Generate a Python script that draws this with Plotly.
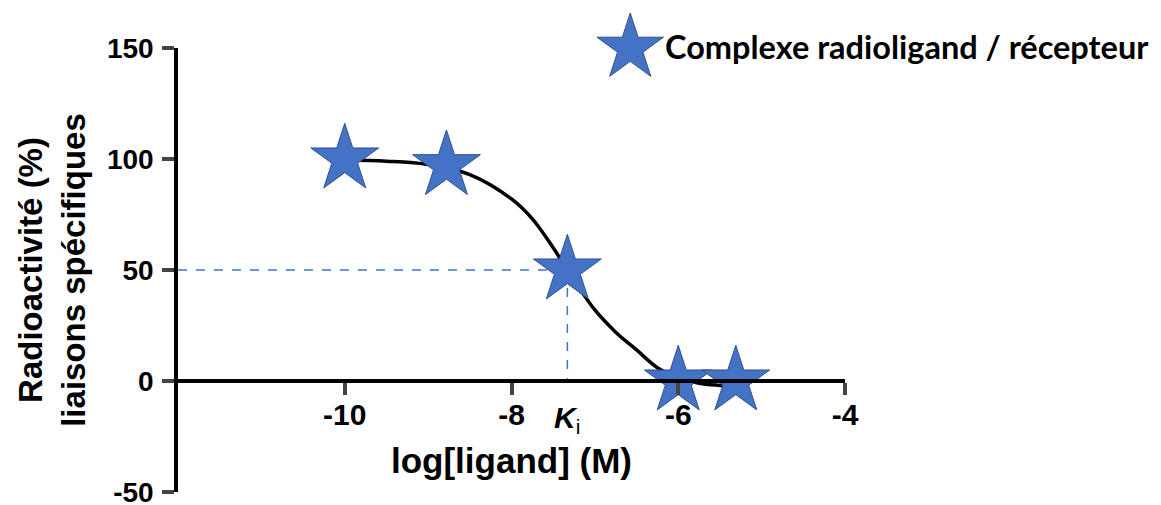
import plotly.graph_objects as go

# ---- data ----
log_ligand = [-10.0, -8.78, -7.33, -6.0, -5.31]
binding_pct = [100, 97, 50, 0, 0]

curve_x = [-10.0, -9.5, -9.0, -8.5, -8.0, -7.75, -7.5, -7.33, -7.0, -6.75, -6.5, -6.25, -6.0, -5.75, -5.5, -5.3]
curve_y = [99.5, 99.0, 97.5, 93.0, 82.0, 73.0, 60.0, 50.0, 32.0, 22.0, 14.0, 6.0, 1.5, -1.0, -2.0, -2.5]

ki_log = -7.33
half_binding = 50

x_ticks = [-10, -8, -6, -4]
x_tick_labels = ["-10", "-8", "-6", "-4"]
y_ticks = [-50, 0, 50, 100, 150]
y_tick_labels = ["-50", "0", "50", "100", "150"]
x_range = [-12, -4]
y_range = [-50, 150]

series_name = "Complexe radioligand / récepteur"

BLUE = "#4472C4"
BLUE_EDGE = "#2F528F"
AXIS_FONT = "Liberation Sans, Arial, sans-serif"

fig = go.Figure()

# dashed guide lines at Ki / 50 %
fig.add_trace(go.Scatter(x=[x_range[0], ki_log], y=[half_binding, half_binding], mode="lines",
                         line=dict(color=BLUE, width=1.5, dash="dash"), showlegend=False, hoverinfo="skip"))
fig.add_trace(go.Scatter(x=[ki_log, ki_log], y=[half_binding, 0], mode="lines",
                         line=dict(color=BLUE, width=1.5, dash="dash"), showlegend=False, hoverinfo="skip"))

# fitted curve
fig.add_trace(go.Scatter(x=curve_x, y=curve_y, mode="lines", line=dict(color="black", width=3.5, shape="spline"),
                         showlegend=False, hoverinfo="skip"))

# data points
fig.add_trace(go.Scatter(x=log_ligand, y=binding_pct, mode="markers", name=series_name,
                         marker=dict(symbol="star", size=51, color=BLUE, line=dict(color=BLUE_EDGE, width=1)),
                         cliponaxis=False, showlegend=False))

# custom legend key (large star) on an auxiliary paper-like axis
fig.add_trace(go.Scatter(x=[0.678], y=[1.0], xaxis="x2", yaxis="y2", mode="markers",
                         marker=dict(symbol="star", size=50, color=BLUE, line=dict(color=BLUE_EDGE, width=1)),
                         cliponaxis=False, showlegend=False, hoverinfo="skip"))

fig.add_annotation(xref="paper", yref="paper", x=0.727, y=1.004, xanchor="left", yanchor="middle",
                   text="<b>" + series_name + "</b>", showarrow=False,
                   font=dict(family="Lato, Carlito, sans-serif", size=32.5, color="black"))

# Ki label
fig.add_annotation(xref="x", yref="y", x=ki_log, y=0, yanchor="middle", yshift=-38,
                   text="<b><i>K</i></b><sub>i</sub>", showarrow=False,
                   font=dict(family=AXIS_FONT, size=30, color="black"))

fig.update_layout(
    width=1153, height=497,
    margin=dict(l=170, r=316, t=40, b=13),
    plot_bgcolor="white", paper_bgcolor="white",
    showlegend=False,
    xaxis=dict(range=x_range, tickvals=x_ticks, ticktext=["<b>" + t + "</b>" for t in x_tick_labels],
               ticks="outside", ticklen=12, tickwidth=3.5,
               showline=True, linewidth=3.5, linecolor="black", showgrid=False, zeroline=False,
               anchor="free", position=0.25, automargin=False, ticklabelstandoff=-6,
               ticklabeloverflow="allow",
               tickfont=dict(family=AXIS_FONT, size=30, color="black"),
               title=dict(text="<b>log[ligand] (M)</b>", standoff=18,
                          font=dict(family=AXIS_FONT, size=35, color="black"))),
    yaxis=dict(range=y_range, tickvals=y_ticks, ticktext=["<b>" + t + "</b>" for t in y_tick_labels],
               ticks="outside", ticklen=12, tickwidth=3.5,
               showline=True, linewidth=3.5, linecolor="black", showgrid=False, zeroline=False,
               automargin=False, ticklabelstandoff=3, ticklabeloverflow="allow",
               tickfont=dict(family=AXIS_FONT, size=28, color="black"),
               title=dict(text="<b>Radioactivité (%)<br>liaisons spécifiques</b>", standoff=12,
                          font=dict(family=AXIS_FONT, size=33, color="black"))),
    xaxis2=dict(domain=[0, 1], range=[0, 1], visible=False, overlaying="x", anchor="y2", fixedrange=True),
    yaxis2=dict(domain=[0, 1], range=[0, 1], visible=False, overlaying="y", anchor="x2", fixedrange=True),
)

fig.write_html("out.html")
